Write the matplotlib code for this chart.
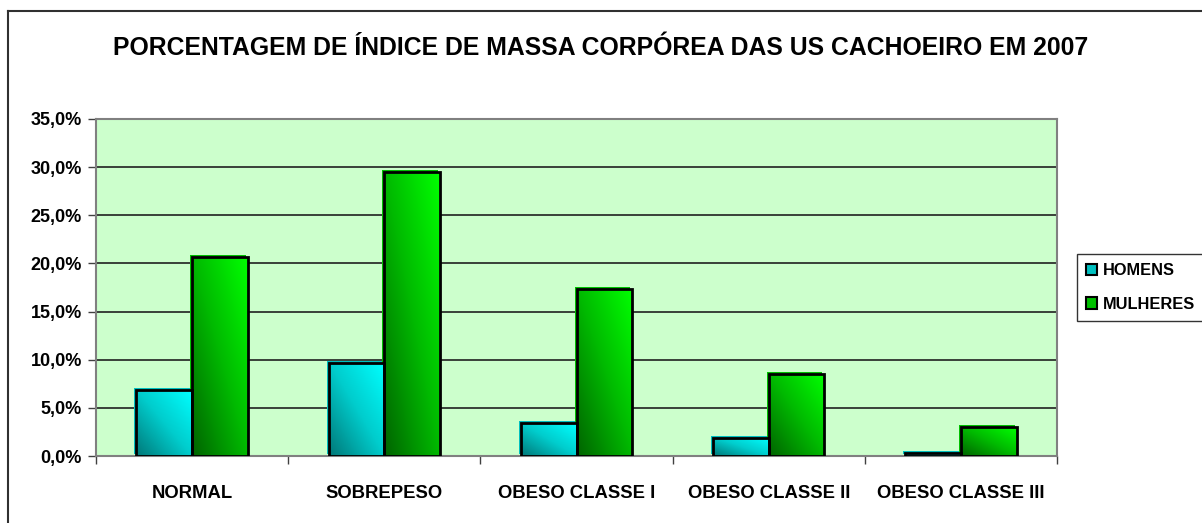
import matplotlib
matplotlib.use("Agg")
import matplotlib.pyplot as plt
import numpy as np
from matplotlib.patches import Patch
from matplotlib.lines import Line2D
from matplotlib.colors import LinearSegmentedColormap
import matplotlib.transforms as mtransforms

plt.rcParams['font.family'] = ['Liberation Sans', 'DejaVu Sans']

categories = ["NORMAL", "SOBREPESO", "OBESO CLASSE I", "OBESO CLASSE II", "OBESO CLASSE III"]
homens = [0.069, 0.097, 0.034, 0.019, 0.003]
mulheres = [0.207, 0.295, 0.173, 0.085, 0.030]
series_names = ["HOMENS", "MULHERES"]
yticks = [0.0, 0.05, 0.10, 0.15, 0.20, 0.25, 0.30, 0.35]
title = "PORCENTAGEM DE ÍNDICE DE MASSA CORPÓREA DAS US CACHOEIRO EM 2007"

W, H = 1202, 523
fig = plt.figure(figsize=(W / 100, H / 100), dpi=100)
fig.patch.set_facecolor("white")

ax = fig.add_axes([96 / W, 1 - 456 / H, (1057 - 96) / W, (456 - 119) / H])
ax.set_facecolor("#CCFFCC")

x = np.arange(len(categories))
bw = 0.29

cmaps = [
    LinearSegmentedColormap.from_list("cy", ["#007878", "#00CCCC", "#00FFFF"]),
    LinearSegmentedColormap.from_list("gr", ["#006400", "#00B800", "#00FF00"]),
]
shadow_cols = ["#00C0C0", "#00C000"]

grad = np.add.outer(np.linspace(1, 0, 64), np.linspace(0, 1, 64)) / 2.0

for i, (vals, off) in enumerate([(homens, -bw / 2), (mulheres, bw / 2)]):
    # shadow (offset up-left)
    sh_tr = mtransforms.offset_copy(ax.transData, fig=fig, x=-2, y=2, units="dots")
    ax.bar(x + off, vals, width=bw, color=shadow_cols[i], edgecolor="none",
           transform=sh_tr, zorder=2)
    bars = ax.bar(x + off, vals, width=bw, color="none", edgecolor="black",
                  linewidth=2, zorder=4)
    for b in bars:
        x0, y0 = b.get_x(), b.get_y()
        im = ax.imshow(grad, cmap=cmaps[i], aspect="auto",
                       extent=[x0, x0 + b.get_width(), y0, y0 + b.get_height()],
                       origin="upper", zorder=3, interpolation="bilinear")
        im.set_clip_path(b)

ax.set_xlim(-0.5, len(categories) - 0.5)
ax.set_ylim(0, 0.35)

ax.set_yticks(yticks)
ax.set_yticklabels([f"{v*100:.1f}%".replace(".", ",") for v in yticks],
                   fontsize=13, fontweight="bold")
ax.set_xticks(x)
ax.set_xticklabels(categories, fontsize=13.3, fontweight="bold")
ax.tick_params(axis="x", length=0, pad=21)
ax.set_xticks(np.arange(-0.5, len(categories), 1.0), minor=True)
ax.tick_params(axis="x", which="minor", length=6, width=1, color="#404040", direction="out")
ax.tick_params(axis="y", length=6, width=1, color="#404040", direction="out", pad=4)

ax.yaxis.grid(True, color="#202020", linewidth=1.2)
ax.set_axisbelow(True)
for s in ax.spines.values():
    s.set_color("#808080")
    s.set_linewidth(1.5)

fig.text(601 / W, 1 - 48 / H, title, ha="center", va="center",
         fontsize=17.8, fontweight="bold")

handles = [Patch(facecolor="#00C0C0", edgecolor="black", linewidth=1.5),
           Patch(facecolor="#00C000", edgecolor="black", linewidth=1.5)]
leg = fig.legend(handles, series_names, loc="center left",
                 bbox_to_anchor=(1077 / W, 1 - 287.5 / H),
                 prop={"weight": "bold", "size": 11.8},
                 frameon=True, fancybox=False, edgecolor="black",
                 handlelength=0.7, handleheight=0.7, handletextpad=0.3,
                 labelspacing=1.1, borderpad=0.55, borderaxespad=0)
leg.get_frame().set_linewidth(1.0)

# outer chart frame
fig.add_artist(Line2D([8 / W, 8 / W], [0, 1 - 11 / H], color="#303030", linewidth=1.5))
fig.add_artist(Line2D([8 / W, 1], [1 - 11 / H, 1 - 11 / H], color="#303030", linewidth=1.5))

fig.savefig("out.png", dpi=100)
